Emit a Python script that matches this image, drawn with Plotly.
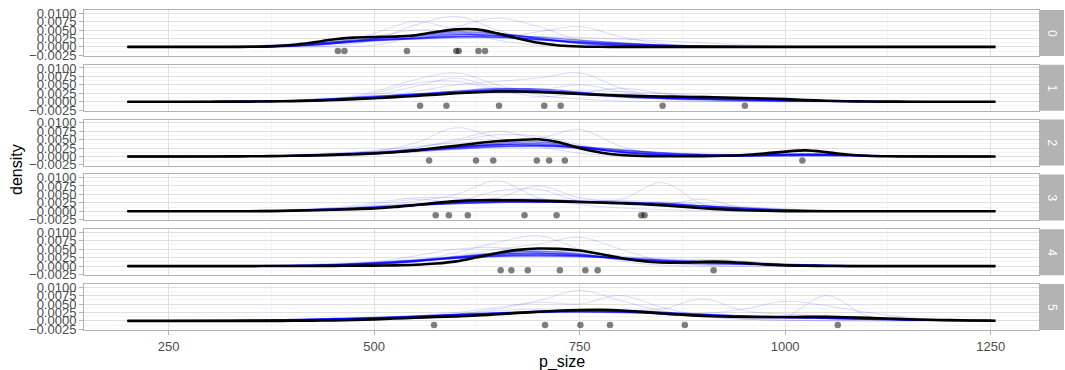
import plotly.graph_objects as go

# ---------------- data ----------------
GROUPS = ["0", "1", "2", "3", "4", "5"]

# grid of p_size for the observed density curves (black)
X_OBS = [200, 225, 250, 275, 300, 325, 350, 375, 400, 425, 450, 475, 500, 525, 550, 575,
         600, 625, 650, 675, 700, 725, 750, 775, 800, 825, 850, 875, 900, 925, 950, 975,
         1000, 1025, 1050, 1075, 1100, 1125, 1150, 1175, 1200, 1225, 1250, 1256]
# grid of p_size for the posterior draws (blue)
X_DRAW = [200, 250, 300, 350, 400, 450, 500, 550, 600, 650, 700, 750, 800, 850, 900, 950,
          1000, 1050, 1100, 1150, 1200, 1250]

# observed densities, in units of 0.001
obs_0 = [0, 0, 0, 0, 0, 0, 0.03, 0.15, 0.55, 1.3, 2.2, 2.75, 2.95, 3.05, 3.45, 4.4, 5.2, 5.2,
         4.0, 2.5, 1.2, 0.4, 0.1, 0.02, 0, 0, 0, 0, 0, 0, 0, 0, 0, 0, 0, 0, 0, 0, 0, 0, 0, 0, 0, 0]
obs_1 = [0, 0, 0, 0, 0, 0.01, 0.03, 0.08, 0.15, 0.3, 0.5, 0.75, 1.0, 1.35, 1.7, 2.1, 2.5, 2.8,
         3.0, 3.0, 2.85, 2.6, 2.3, 2.0, 1.8, 1.65, 1.55, 1.45, 1.35, 1.25, 1.1, 0.95, 0.75, 0.5,
         0.3, 0.12, 0.05, 0.02, 0, 0, 0, 0, 0, 0]
obs_2 = [0, 0, 0, 0, 0, 0.02, 0.05, 0.1, 0.2, 0.33, 0.48, 0.68, 0.9, 1.25, 1.8, 2.5, 3.2, 3.9,
         4.5, 4.9, 5.1, 4.2, 2.45, 1.2, 0.45, 0.15, 0.08, 0.08, 0.12, 0.22, 0.45, 0.9, 1.45, 1.8,
         1.3, 0.6, 0.2, 0.05, 0, 0, 0, 0, 0, 0]
obs_3 = [0, 0, 0, 0, 0, 0.01, 0.03, 0.06, 0.15, 0.3, 0.45, 0.62, 0.85, 1.25, 1.85, 2.5, 3.0, 3.25,
         3.3, 3.25, 3.1, 2.95, 2.75, 2.6, 2.4, 2.15, 1.8, 1.35, 0.9, 0.55, 0.3, 0.15, 0.06, 0.02,
         0, 0, 0, 0, 0, 0, 0, 0, 0, 0]
obs_4 = [0, 0, 0, 0, 0, 0, 0, 0.01, 0.02, 0.04, 0.07, 0.1, 0.15, 0.22, 0.4, 0.75, 1.4, 2.6,
         3.9, 4.8, 5.2, 5.1, 4.6, 3.6, 2.4, 1.5, 1.05, 1.05, 1.3, 1.3, 0.95, 0.5, 0.22, 0.08,
         0.03, 0, 0, 0, 0, 0, 0, 0, 0, 0]
obs_5 = [0, 0, 0, 0, 0, 0, 0.005, 0.01, 0.03, 0.07, 0.15, 0.27, 0.45, 0.7, 0.95, 1.15, 1.35, 1.6,
         1.95, 2.35, 2.7, 3.0, 3.2, 3.25, 3.1, 2.7, 2.2, 1.8, 1.5, 1.3, 1.2, 1.15, 1.15, 1.2,
         1.2, 1.1, 0.9, 0.7, 0.5, 0.35, 0.22, 0.13, 0.07, 0.06]

# posterior predictive draws, in units of 0.001 (first six: dense core, last five: faint)
draws_0 = [
    [0, 0, 0, 0.05, 0.3, 1.2, 2.2, 2.8, 3.6, 3.8, 2.6, 1.2, 0.5, 0.2, 0.1, 0, 0, 0, 0, 0, 0, 0],
    [0, 0, 0, 0.1, 0.5, 1.5, 2.5, 3.2, 3.9, 3.3, 2.2, 1.3, 0.7, 0.3, 0.1, 0.05, 0, 0, 0, 0, 0, 0],
    [0, 0, 0.05, 0.2, 0.7, 1.4, 2.0, 2.6, 3.0, 2.8, 2.1, 1.4, 0.9, 0.5, 0.25, 0.1, 0.05, 0, 0, 0, 0, 0],
    [0, 0, 0, 0, 0.2, 0.9, 2.4, 3.5, 4.4, 4.0, 2.5, 1.0, 0.4, 0.1, 0, 0, 0, 0, 0, 0, 0, 0],
    [0, 0, 0.02, 0.1, 0.4, 1.0, 1.8, 2.5, 3.2, 3.4, 2.9, 2.0, 1.2, 0.6, 0.3, 0.15, 0.05, 0, 0, 0, 0, 0],
    [0, 0, 0, 0.05, 0.3, 1.1, 2.0, 2.4, 2.9, 3.0, 2.3, 1.6, 1.0, 0.5, 0.2, 0.05, 0, 0, 0, 0, 0, 0],
    [0, 0, 0, 0, 0, 0.3, 2.0, 6.5, 9.0, 5.0, 1.5, 0.3, 0, 0, 0, 0, 0, 0, 0, 0, 0, 0],
    [0, 0, 0, 0, 0, 0, 0.5, 3.0, 6.0, 8.5, 6.0, 2.0, 0.5, 0, 0, 0, 0, 0, 0, 0, 0, 0],
    [0, 0, 0, 0.1, 0.5, 1.5, 3.0, 5.0, 4.5, 3.0, 4.5, 6.0, 3.0, 1.0, 0.2, 0, 0, 0, 0, 0, 0, 0],
    [0, 0, 0.1, 0.3, 0.8, 1.5, 2.0, 2.2, 2.5, 2.8, 3.0, 2.8, 2.3, 1.8, 1.2, 0.6, 0.3, 0.1, 0, 0, 0, 0],
    [0, 0, 0, 0, 0.1, 1.0, 4.0, 7.5, 5.0, 2.0, 0.5, 0.1, 0, 0, 0, 0, 0, 0, 0, 0, 0, 0],
]
draws_1 = [
    [0, 0, 0, 0.05, 0.2, 0.6, 1.2, 2.0, 2.8, 3.3, 3.2, 2.6, 1.8, 1.2, 0.8, 0.5, 0.3, 0.15, 0.05, 0, 0, 0],
    [0, 0, 0.02, 0.1, 0.35, 0.8, 1.5, 2.3, 3.0, 3.4, 3.1, 2.3, 1.6, 1.1, 0.9, 0.7, 0.4, 0.2, 0.05, 0, 0, 0],
    [0, 0, 0, 0.05, 0.2, 0.5, 1.0, 1.8, 2.6, 3.6, 3.8, 2.8, 1.7, 1.0, 0.6, 0.4, 0.2, 0.1, 0, 0, 0, 0],
    [0, 0.02, 0.05, 0.15, 0.4, 0.9, 1.6, 2.2, 2.7, 2.9, 2.7, 2.2, 1.7, 1.3, 1.0, 0.8, 0.5, 0.3, 0.1, 0.05, 0, 0],
    [0, 0, 0, 0.05, 0.25, 0.7, 1.3, 2.1, 3.1, 3.9, 3.5, 2.4, 1.4, 0.9, 0.7, 0.5, 0.3, 0.1, 0.05, 0, 0, 0],
    [0, 0, 0.02, 0.1, 0.3, 0.7, 1.2, 1.9, 2.5, 3.0, 3.0, 2.6, 2.0, 1.5, 1.1, 0.8, 0.5, 0.25, 0.1, 0.02, 0, 0],
    [0, 0, 0, 0, 0.1, 0.8, 3.0, 6.5, 8.5, 5.0, 2.0, 0.8, 0.2, 0, 0, 0, 0, 0, 0, 0, 0, 0],
    [0, 0, 0, 0, 0, 0.2, 1.0, 3.0, 5.0, 6.0, 7.0, 8.5, 4.0, 1.0, 0.2, 0, 0, 0, 0, 0, 0, 0],
    [0, 0, 0, 0.1, 0.4, 1.0, 2.0, 4.5, 7.0, 4.0, 3.5, 5.0, 3.0, 1.0, 0.3, 0.1, 0, 0, 0, 0, 0, 0],
    [0, 0, 0.05, 0.2, 0.5, 1.0, 1.5, 2.0, 2.5, 2.8, 3.0, 3.2, 3.0, 2.5, 1.8, 1.0, 0.5, 0.2, 0.05, 0, 0, 0],
    [0, 0, 0, 0, 0, 0.5, 2.5, 5.5, 6.0, 3.5, 1.5, 2.5, 4.0, 2.5, 0.8, 0.2, 0, 0, 0, 0, 0, 0],
]
draws_2 = [
    [0, 0, 0, 0.05, 0.2, 0.5, 1.0, 1.8, 2.7, 3.5, 3.8, 2.8, 1.4, 0.5, 0.2, 0.15, 0.3, 0.35, 0.2, 0.05, 0, 0],
    [0, 0, 0.02, 0.1, 0.3, 0.7, 1.3, 2.1, 2.9, 3.4, 3.3, 2.5, 1.4, 0.7, 0.35, 0.3, 0.45, 0.45, 0.25, 0.1, 0, 0],
    [0, 0, 0, 0.05, 0.15, 0.4, 0.9, 1.7, 2.8, 3.9, 4.3, 3.0, 1.2, 0.4, 0.15, 0.2, 0.5, 0.5, 0.2, 0, 0, 0],
    [0, 0, 0.02, 0.08, 0.25, 0.6, 1.1, 1.8, 2.5, 3.0, 3.1, 2.6, 1.8, 1.0, 0.6, 0.5, 0.6, 0.55, 0.3, 0.1, 0.02, 0],
    [0, 0, 0, 0.03, 0.12, 0.35, 0.8, 1.6, 2.6, 3.5, 3.6, 2.6, 1.3, 0.6, 0.3, 0.3, 0.7, 0.8, 0.3, 0.05, 0, 0],
    [0, 0, 0.02, 0.1, 0.3, 0.6, 1.0, 1.5, 2.2, 2.9, 3.2, 2.9, 2.0, 1.1, 0.5, 0.3, 0.4, 0.4, 0.2, 0.05, 0, 0],
    [0, 0, 0, 0, 0.1, 0.5, 1.5, 4.0, 8.5, 5.5, 3.0, 1.0, 0.2, 0, 0, 0, 0, 0, 0, 0, 0, 0],
    [0, 0, 0, 0, 0, 0.1, 0.8, 2.5, 5.0, 7.5, 5.5, 8.0, 3.0, 0.5, 0, 0, 0, 0, 0, 0, 0, 0],
    [0, 0, 0, 0.1, 0.3, 0.8, 1.8, 3.0, 4.0, 4.5, 4.2, 3.0, 1.5, 0.8, 0.5, 0.6, 0.9, 0.7, 0.3, 0.1, 0, 0],
    [0, 0, 0, 0, 0.05, 0.3, 1.0, 2.5, 4.5, 6.5, 6.0, 3.5, 1.0, 0.2, 0, 0, 0.2, 0.3, 0.1, 0, 0, 0],
    [0, 0, 0.05, 0.2, 0.5, 1.0, 1.5, 2.0, 2.4, 2.6, 2.6, 2.3, 1.8, 1.2, 0.8, 0.6, 0.6, 0.5, 0.3, 0.1, 0.02, 0],
]
draws_3 = [
    [0, 0, 0, 0.05, 0.2, 0.5, 1.0, 1.8, 2.6, 3.0, 3.0, 2.8, 2.5, 2.0, 1.2, 0.5, 0.15, 0.05, 0, 0, 0, 0],
    [0, 0, 0.02, 0.1, 0.3, 0.7, 1.3, 2.0, 2.6, 2.9, 2.9, 2.7, 2.4, 1.9, 1.3, 0.7, 0.3, 0.1, 0.02, 0, 0, 0],
    [0, 0, 0, 0.03, 0.15, 0.4, 0.9, 1.7, 2.7, 3.4, 3.5, 3.0, 2.4, 1.7, 1.0, 0.4, 0.1, 0, 0, 0, 0, 0],
    [0, 0.02, 0.05, 0.15, 0.35, 0.7, 1.2, 1.8, 2.3, 2.6, 2.7, 2.6, 2.4, 2.1, 1.6, 1.0, 0.5, 0.2, 0.05, 0, 0, 0],
    [0, 0, 0, 0.05, 0.2, 0.5, 1.1, 2.0, 2.9, 3.3, 3.1, 2.7, 2.6, 2.4, 1.6, 0.7, 0.2, 0.05, 0, 0, 0, 0],
    [0, 0, 0.02, 0.08, 0.25, 0.6, 1.1, 1.7, 2.3, 2.7, 2.8, 2.8, 2.7, 2.3, 1.6, 0.9, 0.4, 0.15, 0.03, 0, 0, 0],
    [0, 0, 0, 0, 0.1, 0.5, 1.5, 3.0, 5.0, 9.0, 4.0, 2.0, 1.0, 0.5, 0.2, 0, 0, 0, 0, 0, 0, 0],
    [0, 0, 0, 0, 0.05, 0.3, 1.0, 2.0, 3.0, 4.0, 7.5, 4.0, 3.5, 8.5, 2.0, 0.3, 0, 0, 0, 0, 0, 0],
    [0, 0, 0, 0.05, 0.3, 1.0, 2.5, 4.0, 4.0, 3.0, 2.5, 3.0, 3.0, 2.0, 3.5, 1.0, 0.2, 0, 0, 0, 0, 0],
    [0, 0, 0.05, 0.2, 0.5, 1.0, 1.6, 2.2, 2.7, 3.0, 3.2, 3.3, 3.2, 2.8, 2.2, 1.4, 0.7, 0.3, 0.1, 0, 0, 0],
    [0, 0, 0, 0, 0.1, 0.5, 2.0, 3.5, 3.0, 6.0, 6.5, 3.0, 2.0, 1.5, 1.0, 0.5, 0.1, 0, 0, 0, 0, 0],
]
draws_4 = [
    [0, 0, 0, 0, 0.05, 0.2, 0.6, 1.5, 2.7, 3.6, 3.9, 3.4, 2.3, 1.3, 0.8, 0.6, 0.4, 0.2, 0.05, 0, 0, 0],
    [0, 0, 0.02, 0.05, 0.15, 0.4, 0.9, 1.7, 2.6, 3.2, 3.4, 3.0, 2.2, 1.5, 1.0, 0.7, 0.4, 0.2, 0.08, 0.02, 0, 0],
    [0, 0, 0, 0, 0.03, 0.15, 0.5, 1.3, 2.6, 3.9, 4.4, 3.6, 2.0, 1.0, 0.7, 0.5, 0.3, 0.1, 0, 0, 0, 0],
    [0, 0.02, 0.05, 0.1, 0.25, 0.5, 1.0, 1.7, 2.4, 2.9, 3.0, 2.8, 2.3, 1.7, 1.2, 0.8, 0.5, 0.25, 0.1, 0.03, 0, 0],
    [0, 0, 0, 0.02, 0.1, 0.3, 0.7, 1.4, 2.4, 3.4, 3.8, 3.2, 2.2, 1.4, 1.1, 0.8, 0.4, 0.15, 0.05, 0, 0, 0],
    [0, 0, 0.02, 0.05, 0.15, 0.35, 0.8, 1.5, 2.3, 3.0, 3.3, 3.1, 2.5, 1.8, 1.2, 0.7, 0.35, 0.15, 0.05, 0.02, 0, 0],
    [0, 0, 0, 0, 0, 0.1, 0.5, 1.5, 4.0, 7.0, 9.0, 5.0, 1.5, 0.3, 0, 0, 0, 0, 0, 0, 0, 0],
    [0, 0, 0, 0, 0, 0.05, 0.3, 1.2, 3.0, 5.0, 6.5, 8.5, 5.0, 1.5, 0.3, 0, 0, 0, 0, 0, 0, 0],
    [0, 0, 0, 0.05, 0.2, 0.5, 1.0, 2.0, 3.0, 4.0, 4.5, 4.0, 3.0, 2.0, 1.6, 1.2, 0.7, 0.3, 0.1, 0, 0, 0],
    [0, 0, 0, 0, 0.05, 0.3, 1.2, 3.0, 5.0, 5.5, 4.0, 3.0, 2.0, 1.0, 2.0, 1.5, 0.5, 0.1, 0, 0, 0, 0],
    [0, 0, 0.05, 0.15, 0.4, 0.8, 1.3, 1.9, 2.4, 2.8, 3.0, 3.0, 2.7, 2.2, 1.6, 1.0, 0.6, 0.3, 0.1, 0.03, 0, 0],
]
draws_5 = [
    [0.02, 0.05, 0.1, 0.2, 0.35, 0.6, 0.9, 1.3, 1.8, 2.3, 2.7, 2.9, 2.7, 2.2, 1.7, 1.3, 1.1, 0.9, 0.6, 0.35, 0.15, 0.05],
    [0, 0.02, 0.05, 0.12, 0.25, 0.5, 0.8, 1.2, 1.7, 2.3, 2.9, 3.2, 2.8, 2.0, 1.4, 1.1, 1.0, 0.8, 0.5, 0.25, 0.1, 0.03],
    [0.02, 0.05, 0.1, 0.2, 0.4, 0.7, 1.0, 1.4, 1.9, 2.3, 2.6, 2.7, 2.6, 2.3, 1.9, 1.5, 1.2, 0.9, 0.6, 0.4, 0.2, 0.1],
    [0, 0.02, 0.05, 0.1, 0.2, 0.4, 0.7, 1.1, 1.6, 2.2, 2.8, 3.3, 3.2, 2.5, 1.6, 1.1, 0.9, 0.8, 0.6, 0.35, 0.15, 0.05],
    [0.02, 0.04, 0.08, 0.15, 0.3, 0.55, 0.9, 1.3, 1.8, 2.2, 2.5, 2.6, 2.5, 2.2, 1.8, 1.4, 1.2, 1.0, 0.7, 0.4, 0.2, 0.08],
    [0, 0.03, 0.06, 0.12, 0.25, 0.45, 0.75, 1.1, 1.5, 2.0, 2.6, 3.0, 3.0, 2.6, 2.0, 1.4, 1.0, 0.7, 0.45, 0.25, 0.1, 0.03],
    [0, 0, 0, 0, 0.1, 0.3, 0.8, 1.5, 2.5, 4.0, 6.0, 9.0, 6.0, 3.0, 1.2, 0.5, 0.2, 0.1, 0, 0, 0, 0],
    [0, 0, 0, 0, 0.05, 0.2, 0.6, 1.2, 2.0, 3.5, 5.5, 5.0, 7.5, 4.0, 1.5, 0.5, 0.2, 0, 0, 0, 0, 0],
    [0, 0, 0.05, 0.1, 0.3, 0.6, 1.0, 1.5, 2.0, 2.5, 2.8, 3.0, 3.2, 3.5, 6.5, 3.0, 2.0, 1.5, 1.0, 0.5, 0.2, 0.05],
    [0, 0, 0, 0.05, 0.2, 0.5, 1.0, 1.5, 2.0, 2.5, 3.0, 3.2, 3.0, 2.5, 2.2, 3.5, 5.8, 4.5, 2.5, 1.0, 0.3, 0.1],
    [0, 0, 0, 0, 0.05, 0.2, 0.6, 1.2, 2.0, 3.0, 3.5, 3.0, 2.5, 2.0, 1.5, 1.0, 1.2, 7.5, 1.5, 0.5, 0.1, 0],
]

# observed p_size values (points)
points_0 = [456, 464, 540, 600, 603, 627, 635]
points_1 = [556, 588, 652, 707, 727, 851, 951]
points_2 = [567, 624, 645, 698, 713, 732, 1021]
points_3 = [575, 591, 614, 683, 722, 825, 829]
points_4 = [654, 667, 687, 726, 757, 772, 913]
points_5 = [573, 708, 751, 787, 878, 1064]
POINT_Y = -0.0012

OBS = [obs_0, obs_1, obs_2, obs_3, obs_4, obs_5]
DRAWS = [draws_0, draws_1, draws_2, draws_3, draws_4, draws_5]
POINTS = [points_0, points_1, points_2, points_3, points_4, points_5]
SCALE = 0.001
N_CORE = 6

X_TICKS = [250, 500, 750, 1000, 1250]
X_MINOR = [375, 625, 875, 1125]
Y_TICKS = [-0.0025, 0.0, 0.0025, 0.005, 0.0075, 0.01]
Y_TICKTEXT = ["\u22120.0025", "0.0000", "0.0025", "0.0050", "0.0075", "0.0100"]
Y_MINOR = [-0.00125, 0.00125, 0.00375, 0.00625, 0.00875]

# ---------------- layout constants ----------------
W, H = 1065, 370
ML, MR, MT, MB = 84, 26, 10, 40
PH = H - MT - MB          # plot-area height in px
PW = W - ML - MR
PANEL_H = 46
GAP = (PH - 6 * PANEL_H) / 5
FONT = "Liberation Sans, Arial, sans-serif"
GRID = "#e0e0e0"
GRID_MINOR = "#ececec"
BORDER = "#b3b3b3"
CORE_COLOR = "rgba(0,0,255,0.5)"
FAINT_COLOR = "rgba(0,0,255,0.14)"

fig = go.Figure()
layout = {}
for k in range(6):
    xa = "x" if k == 0 else f"x{k + 1}"
    ya = "y" if k == 0 else f"y{k + 1}"
    draws = DRAWS[k]
    ordered = draws[N_CORE:] + draws[:N_CORE]
    for i, d in enumerate(ordered):
        core = i >= len(draws) - N_CORE
        fig.add_trace(go.Scatter(
            x=X_DRAW, y=[v * SCALE for v in d], mode="lines", xaxis=xa, yaxis=ya,
            line=dict(color=CORE_COLOR if core else FAINT_COLOR,
                      width=1.4 if core else 1.0, shape="spline", smoothing=1.0),
            hoverinfo="skip", showlegend=False))
    fig.add_trace(go.Scatter(
        x=X_OBS, y=[v * SCALE for v in OBS[k]], mode="lines", xaxis=xa, yaxis=ya,
        line=dict(color="black", width=2.6, shape="spline", smoothing=0.8),
        hoverinfo="skip", showlegend=False))
    fig.add_trace(go.Scatter(
        x=POINTS[k], y=[POINT_Y] * len(POINTS[k]), mode="markers", xaxis=xa, yaxis=ya,
        marker=dict(color="rgba(0,0,0,0.5)", size=6.5, line=dict(width=0)),
        hoverinfo="skip", showlegend=False))

    top_px = k * (PANEL_H + GAP)
    bot_px = top_px + PANEL_H
    dom = [max(0.0, 1 - bot_px / PH), min(1.0, 1 - top_px / PH)]
    layout["xaxis" if k == 0 else f"xaxis{k + 1}"] = dict(
        anchor=ya, domain=[0, 1], range=[147.2, 1308.8], automargin=False,
        matches=None if k == 0 else "x",
        tickmode="array", tickvals=X_TICKS, showticklabels=(k == 5),
        ticks="outside" if k == 5 else "", ticklen=4, tickcolor=BORDER,
        tickfont=dict(family=FONT, size=13, color="#4d4d4d"),
        showgrid=True, gridcolor=GRID, gridwidth=1, zeroline=False,
        minor=dict(tickvals=X_MINOR, showgrid=True, gridcolor=GRID_MINOR, gridwidth=0.6, ticks=""),
        showline=True, mirror=True, linecolor=BORDER, linewidth=1)
    layout["yaxis" if k == 0 else f"yaxis{k + 1}"] = dict(
        anchor=xa, domain=dom, range=[-0.0027, 0.01093], automargin=False,
        tickmode="array", tickvals=Y_TICKS, ticktext=Y_TICKTEXT,
        ticks="outside", ticklen=4, tickcolor=BORDER,
        tickfont=dict(family=FONT, size=13, color="#4d4d4d"),
        showgrid=True, gridcolor=GRID, gridwidth=1, zeroline=False,
        minor=dict(tickvals=Y_MINOR, showgrid=True, gridcolor=GRID_MINOR, gridwidth=0.6, ticks=""),
        showline=True, mirror=True, linecolor=BORDER, linewidth=1)

shapes = []
annotations = []
strip_x0 = (1040 - ML) / PW
strip_x1 = (1064 - ML) / PW
for k in range(6):
    top_px = k * (PANEL_H + GAP)
    bot_px = top_px + PANEL_H
    y1 = 1 - top_px / PH
    y0 = 1 - bot_px / PH
    shapes.append(dict(type="rect", xref="paper", yref="paper", x0=strip_x0, x1=strip_x1,
                       y0=y0, y1=y1, fillcolor=BORDER, line=dict(width=0), layer="below"))
    annotations.append(dict(text=GROUPS[k], xref="paper", yref="paper",
                            x=(strip_x0 + strip_x1) / 2, y=(y0 + y1) / 2,
                            showarrow=False, textangle=90,
                            font=dict(family=FONT, size=12, color="white"),
                            xanchor="center", yanchor="middle"))

annotations.append(dict(text="p_size", xref="paper", yref="paper", x=0.5,
                        y=-(362 - (H - MB)) / PH, showarrow=False,
                        font=dict(family=FONT, size=16, color="black"),
                        xanchor="center", yanchor="middle"))
annotations.append(dict(text="density", xref="paper", yref="paper",
                        x=(16 - ML) / PW, y=1 - (170 - MT) / PH, showarrow=False,
                        textangle=-90, font=dict(family=FONT, size=16, color="black"),
                        xanchor="center", yanchor="middle"))

fig.update_layout(
    width=W, height=H,
    margin=dict(l=ML, r=MR, t=MT, b=MB, autoexpand=False),
    paper_bgcolor="white", plot_bgcolor="white",
    showlegend=False, shapes=shapes, annotations=annotations,
    font=dict(family=FONT),
    **layout)

fig.write_html("out.html",
               config={"displayModeBar": False, "staticPlot": True},
               post_script="document.body.style.margin='0';document.body.style.overflow='hidden';")
